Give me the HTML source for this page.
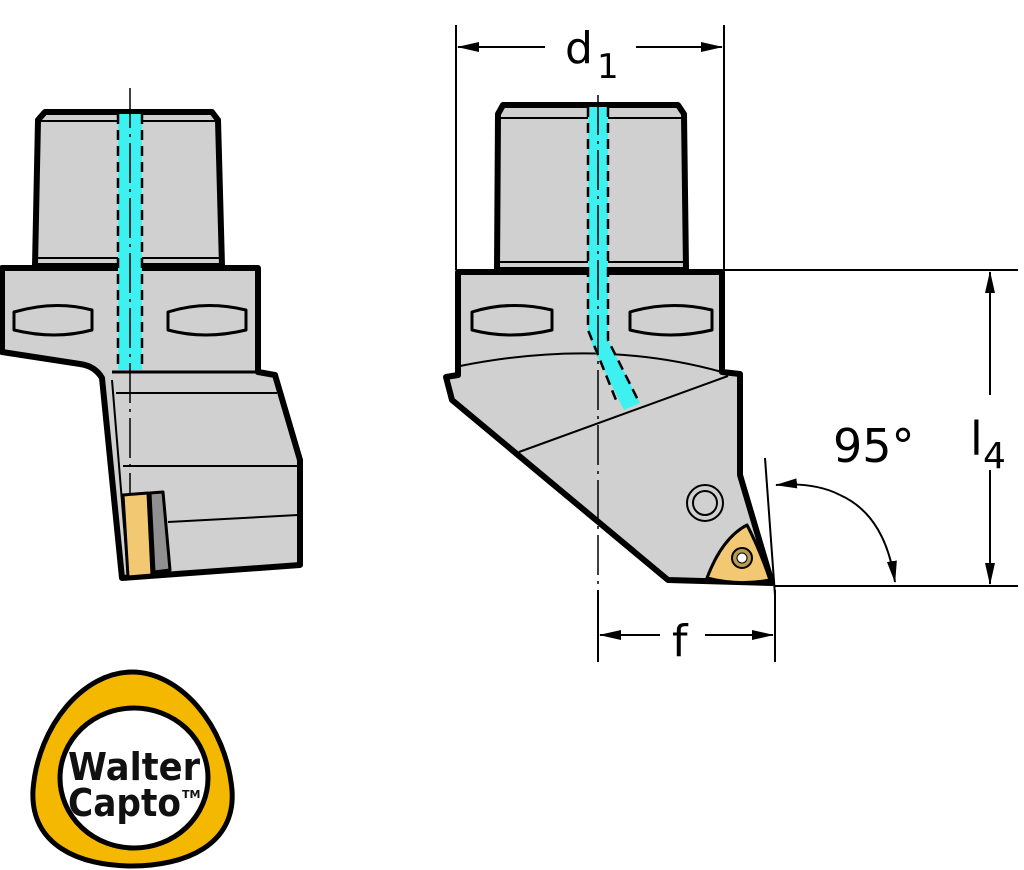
<!DOCTYPE html>
<html><head><style>body{margin:0;background:#fff}svg{display:block}text{font-family:"DejaVu Sans","Liberation Sans",sans-serif}</style></head><body>
<svg width="1024" height="870" viewBox="0 0 1024 870" xmlns="http://www.w3.org/2000/svg">
<defs>
<marker id="ar" markerWidth="22" markerHeight="12" refX="21" refY="6" orient="auto" markerUnits="userSpaceOnUse"><path d="M0,1 L22,6 L0,11 Z" fill="#000"/></marker>
</defs>
<g stroke="#000" stroke-linejoin="round">
<!-- LEFT VIEW -->
<path d="M45,112 L212,112 L218,120 L222,266 L35,266 L38,120 Z" fill="#d0d0d0" stroke-width="6"/>
<line x1="40" y1="121" x2="216" y2="121" stroke-width="2"/>
<line x1="37" y1="258" x2="221" y2="258" stroke-width="2"/>
<path d="M2,268 L258,268 L258,372 L275,375 L300,460 L300,565 L122,578 L102,378 Q95,366 80,364 L2,352 Z" fill="#d0d0d0" stroke-width="6"/>
<line x1="112" y1="372" x2="258" y2="372" stroke-width="3"/>
<line x1="116" y1="393" x2="277" y2="393" stroke-width="2"/>
<line x1="123" y1="466" x2="300" y2="466" stroke-width="2"/>
<line x1="168" y1="522" x2="298" y2="515" stroke-width="2"/>
<path d="M112,380 L128,575" stroke-width="2" fill="none"/>
<path d="M14,312 Q55,300 92,310 L92,330 Q55,340 14,330 Z" fill="#d0d0d0" stroke-width="3"/>
<path d="M168,312 Q205,300 246,310 L246,330 Q205,340 168,330 Z" fill="#d0d0d0" stroke-width="3"/>
<rect x="118" y="114" width="24" height="256" fill="#3ff0f0" stroke="none"/>
<line x1="118" y1="114" x2="118" y2="370" stroke-width="2.5" stroke-dasharray="10,6"/>
<line x1="142" y1="114" x2="142" y2="370" stroke-width="2.5" stroke-dasharray="10,6"/>
<line x1="130" y1="88" x2="130" y2="520" stroke-width="1.5" stroke-dasharray="40,6,3,6"/>
<path d="M123,495 L148,493 L152,575 L128,577 Z" fill="#f2c873" stroke-width="3"/>
<path d="M150,493 L163,492 L170,570 L154,572 Z" fill="#909090" stroke-width="3"/>

<!-- RIGHT VIEW -->
<path d="M503,105 L678,105 L684,114 L686,270 L497,270 L498,114 Z" fill="#d0d0d0" stroke-width="6"/>
<line x1="499" y1="118" x2="684" y2="118" stroke-width="2"/>
<line x1="498" y1="262" x2="686" y2="262" stroke-width="2"/>
<path d="M458,272 L722,272 L722,372 L740,374 L740,475 L772,583 L668,580 L452,400 L446,377 L458,375 Z" fill="#d0d0d0" stroke-width="6"/>
<path d="M460,366 Q600,338 722,372" fill="none" stroke-width="2"/>
<line x1="519" y1="452" x2="728" y2="376" stroke-width="2"/>
<path d="M472,312 Q510,300 552,310 L552,330 Q510,340 472,330 Z" fill="#d0d0d0" stroke-width="3"/>
<path d="M630,312 Q670,300 712,310 L712,330 Q670,340 630,330 Z" fill="#d0d0d0" stroke-width="3"/>
<path d="M588,107 L608,107 L608,340 L640,403 L624,410 L594,350 L588,330 Z" fill="#3ff0f0" stroke="none"/>
<path d="M588,107 L588,330 L618,405" fill="none" stroke-width="2.5" stroke-dasharray="10,6"/>
<path d="M608,107 L608,340 L638,400" fill="none" stroke-width="2.5" stroke-dasharray="10,6"/>
<line x1="598" y1="95" x2="598" y2="662" stroke-width="1.5" stroke-dasharray="40,6,3,6"/>
<circle cx="705" cy="503" r="18" fill="#d0d0d0" stroke-width="2"/>
<circle cx="705" cy="503" r="12" fill="#d0d0d0" stroke-width="2"/>
<path d="M707,578 Q722,538 747,525 Q760,550 770,580 Q738,586 707,578 Z" fill="#f2c873" stroke-width="3"/>
<circle cx="742" cy="558" r="10" fill="#b89a50" stroke-width="2"/>
<circle cx="742" cy="558" r="5" fill="#fff" stroke-width="1"/>

<!-- dimensions -->
<g stroke-width="2" fill="none">
<line x1="456" y1="25" x2="456" y2="270"/>
<line x1="724" y1="25" x2="724" y2="270"/>
<line x1="545" y1="47" x2="458" y2="47" marker-end="url(#ar)"/>
<line x1="636" y1="47" x2="722" y2="47" marker-end="url(#ar)"/>
<line x1="724" y1="270" x2="1018" y2="270"/>
<line x1="775" y1="586" x2="1018" y2="586"/>
<line x1="990" y1="395" x2="990" y2="272" marker-end="url(#ar)"/>
<line x1="990" y1="470" x2="990" y2="584" marker-end="url(#ar)"/>
<line x1="765" y1="458" x2="775" y2="595"/>
<line x1="598" y1="590" x2="598" y2="662"/>
<line x1="775" y1="590" x2="775" y2="662"/>
<line x1="660" y1="635" x2="600" y2="635" marker-end="url(#ar)"/>
<line x1="705" y1="635" x2="773" y2="635" marker-end="url(#ar)"/>
<path d="M840,495 Q815,482 776,485" marker-end="url(#ar)"/>
<path d="M840,495 Q885,515 895,582" marker-end="url(#ar)"/>
</g>
</g>
<g fill="#000" stroke="none">
<text x="565" y="63" font-size="44">d</text>
<text x="597" y="78" font-size="34">1</text>
<text x="833" y="462" font-size="46">95°</text>
<text x="970" y="455" font-size="46">l</text>
<text x="983" y="468" font-size="36">4</text>
<text x="672" y="656" font-size="44">f</text>
</g>

<!-- LOGO -->
<path d="M132,672 C180,672 226,725 232,790 C236,845 185,866 132,866 C79,866 30,845 33,790 C38,725 84,672 132,672 Z" fill="#f5b800" stroke="#000" stroke-width="5"/>
<ellipse cx="134" cy="778" rx="74" ry="70" fill="#fff" stroke="#000" stroke-width="5"/>
<text x="68" y="780" font-size="38" fill="#111" font-family="Liberation Sans,sans-serif" textLength="132" lengthAdjust="spacingAndGlyphs" style="font-weight:bold">Walter</text>
<text x="68" y="816" font-size="38" fill="#111" font-family="Liberation Sans,sans-serif" textLength="113" lengthAdjust="spacingAndGlyphs" style="font-weight:bold">Capto</text>
<text x="182" y="798" font-size="11" font-weight="bold" fill="#111">TM</text>
</svg>
</body></html>
